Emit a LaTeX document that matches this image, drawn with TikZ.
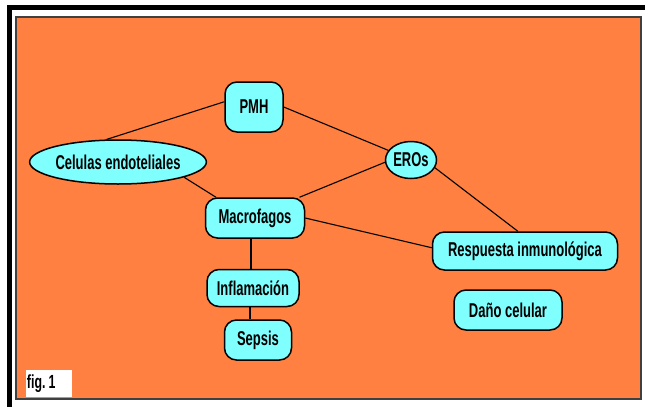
\documentclass[tikz,border=0pt]{standalone}
\usepackage{fontspec}
\setmainfont{Liberation Sans}[FakeStretch=0.65]
\usetikzlibrary{shapes.geometric}
\definecolor{fondo}{RGB}{255,128,64}
\definecolor{celeste}{RGB}{128,255,255}
\definecolor{borde}{RGB}{64,64,64}

\begin{document}
\begin{tikzpicture}[x=1pt, y=-1pt]

\tikzstyle{caja}=[draw, line width=1.5pt, fill=celeste, rounded corners=12pt, inner sep=0pt, font=\fontsize{20}{22}\selectfont\bfseries]
\tikzstyle{ovalo}=[caja, ellipse]
\tikzstyle{link}=[line width=1.1pt]

\useasboundingbox (0,0) rectangle (645,407);
\fill[black] (7,5) rectangle (645,407);
\fill[white] (12,10) rectangle (645,407);
\draw[borde, line width=1.5pt, fill=fondo] (16,17) rectangle (641,399);

\node[caja, minimum width=58pt, minimum height=50pt] (pmh) at (254,107) {PMH};
\node[ovalo, minimum width=51pt, minimum height=37pt] (eros) at (411,160) {EROs};
\node[ovalo, minimum width=171pt, minimum height=44pt] (endo) at (118,162) {Celulas endoteliales};
\node[caja, minimum width=99pt, minimum height=40pt] (macro) at (255,218) {Macrofagos};
\node[caja, minimum width=92pt, minimum height=37pt] (infla) at (253,288) {Inflamación};
\node[caja, minimum width=67pt, minimum height=40pt] (sepsis) at (258,340) {Sepsis};
\node[caja, minimum width=185pt, minimum height=38pt] (resp) at (525,251) {Respuesta inmunológica};
\node[caja, minimum width=108pt, minimum height=40pt] (dano) at (508,310) {Daño celular};
\node[fill=white, text width=44pt, minimum height=27pt, inner sep=1pt, align=left, font=\fontsize{19}{21}\selectfont\bfseries] (fig) at (49,383.5) {fig.\,1};

\draw[link] (pmh.170) -- (endo.117);
\draw[link] (pmh.east) -- (eros.157);
\draw[link] (endo.-13) -- (macro.152);
\draw[link] (eros.185) -- (macro.25);
\draw[link] (eros.-18) -- (resp.110);
\draw[link] (macro.east) -- (resp.178);
\draw[link] (macro.south -| 251,0) -- (infla.north -| 251,0);
\draw[link] (infla.south -| 250,0) -- (sepsis.north -| 250,0);

\end{tikzpicture}
\end{document}
